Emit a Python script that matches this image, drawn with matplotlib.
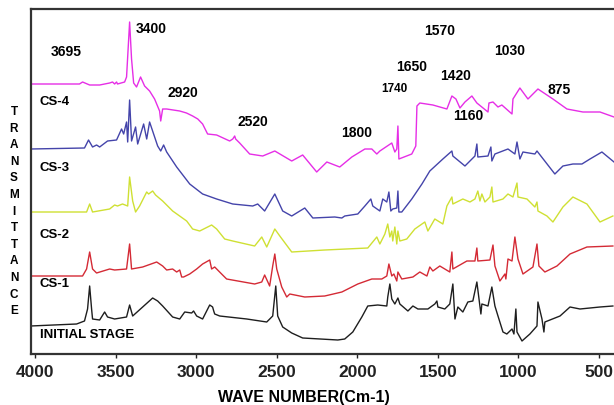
import matplotlib
matplotlib.use("Agg")
import matplotlib.pyplot as plt

# ---------- FTIR data (wave number cm-1, transmittance a.u., traces offset) ----------
cs4_wn = [4028, 3724, 3705, 3661, 3599, 3537, 3519, 3506, 3494, 3488, 3444, 3432, 3413, 3401, 3388,
          3370, 3345, 3320, 3289, 3258, 3227, 3220, 3208, 3183, 3102, 3060, 3022, 2990, 2960, 2929,
          2873, 2792, 2773, 2761, 2755, 2730, 2668, 2587, 2512, 2407, 2339, 2252, 2189, 2109, 2034,
          1953, 1910, 1879, 1860, 1786, 1767, 1755, 1748, 1742, 1662, 1637, 1630, 1612, 1531, 1444,
          1413, 1388, 1363, 1332, 1289, 1258, 1189, 1183, 1158, 1127, 1103, 1040, 1034, 991, 941, 879,
          786, 699, 600, 494, 407]
cs4_t = [321, 321, 323, 320, 320, 322, 323, 321, 323, 321, 323, 328, 383, 346, 322,
         318, 328, 319, 314, 306, 294, 284, 296, 296, 294, 292, 289, 286, 281, 271,
         270, 264, 266, 269, 266, 262, 251, 249, 254, 244, 250, 233, 243, 238, 248,
         256, 256, 251, 254, 262, 253, 256, 279, 246, 251, 259, 299, 302, 300, 296,
         309, 306, 297, 303, 309, 302, 293, 302, 303, 298, 300, 291, 306, 317, 306, 316,
         306, 296, 293, 293, 288]

cs3_wn = [4028, 3693, 3668, 3643, 3618, 3599, 3550, 3494, 3463, 3450, 3432, 3425, 3413, 3401, 3376,
          3363, 3326, 3307, 3289, 3239, 3220, 3202, 3183, 3121, 3040, 2960, 2873, 2773, 2649, 2618,
          2575, 2512, 2463, 2407, 2326, 2276, 2140, 2096, 2078, 1997, 1953, 1916, 1904, 1860, 1842,
          1817, 1804, 1792, 1780, 1755, 1748, 1742, 1724, 1662, 1599, 1550, 1469, 1413, 1407, 1332,
          1270, 1258, 1252, 1189, 1171, 1165, 1146, 1065, 1022, 1009, 991, 972, 898, 885, 774, 724,
          662, 606, 556, 482, 407]
cs3_t = [256, 257, 265, 258, 260, 258, 264, 265, 276, 271, 283, 263, 305, 264, 278,
         261, 281, 266, 283, 259, 254, 260, 253, 238, 221, 211, 206, 201, 199, 201,
         194, 211, 194, 189, 197, 187, 188, 187, 189, 191, 199, 206, 199, 194, 206,
         203, 213, 194, 196, 197, 214, 193, 193, 206, 221, 234, 246, 254, 249, 239,
         249, 261, 248, 249, 258, 244, 251, 256, 251, 263, 246, 253, 251, 254, 231, 239,
         241, 241, 246, 253, 243]

cs2_wn = [4028, 3680, 3661, 3643, 3537, 3506, 3488, 3457, 3425, 3413, 3394, 3376, 3351, 3307, 3295,
          3270, 3252, 3208, 3146, 3059, 3022, 2978, 2904, 2873, 2823, 2773, 2637, 2593, 2562, 2512,
          2481, 2407, 2202, 1935, 1879, 1860, 1829, 1811, 1798, 1786, 1780, 1767, 1755, 1748, 1736,
          1693, 1643, 1581, 1562, 1519, 1469, 1444, 1413, 1407, 1345, 1301, 1270, 1252, 1239, 1227,
          1208, 1177, 1165, 1158, 1096, 1065, 1034, 1009, 1003, 947, 898, 885, 879, 823, 786, 724,
          662, 575, 494, 414]
cs2_t = [193, 193, 201, 193, 196, 200, 199, 201, 199, 228, 204, 193, 199, 213, 211,
         214, 210, 204, 194, 184, 176, 174, 180, 176, 166, 164, 159, 168, 158, 176,
         169, 153, 155, 157, 168, 161, 171, 181, 168, 174, 164, 178, 161, 174, 164,
         166, 176, 183, 174, 186, 181, 199, 208, 201, 206, 203, 206, 214, 204, 211,
         203, 208, 218, 203, 206, 211, 208, 222, 208, 206, 198, 203, 194, 189, 183, 198,
         208, 201, 183, 189]

cs1_wn = [4028, 3705, 3680, 3661, 3643, 3618, 3537, 3506, 3432, 3413, 3401, 3332, 3245, 3208, 3183,
          3146, 3121, 3102, 3090, 3078, 3040, 2997, 2960, 2916, 2904, 2885, 2842, 2811, 2637, 2593,
          2575, 2544, 2525, 2512, 2500, 2469, 2438, 2419, 2326, 2202, 2096, 1997, 1910, 1848, 1817,
          1804, 1786, 1773, 1755, 1748, 1724, 1655, 1612, 1568, 1550, 1531, 1488, 1426, 1413, 1407,
          1320, 1270, 1258, 1252, 1177, 1158, 1146, 1115, 1084, 1078, 1065, 1040, 1022, 1003, 972,
          910, 885, 873, 836, 761, 680, 575, 414]
cs1_t = [129, 129, 136, 153, 136, 132, 136, 135, 136, 161, 136, 138, 143, 139, 135,
         136, 133, 135, 128, 128, 131, 136, 141, 145, 136, 138, 131, 126, 121, 123,
         130, 119, 139, 151, 136, 118, 108, 111, 108, 109, 113, 121, 126, 126, 129,
         141, 129, 131, 124, 133, 126, 128, 133, 129, 138, 134, 139, 133, 153, 136,
         144, 144, 157, 144, 145, 160, 139, 124, 131, 126, 146, 144, 168, 146, 131,
         138, 161, 139, 133, 139, 151, 158, 159]

init_wn = [4028, 3742, 3693, 3674, 3661, 3649, 3643, 3599, 3568, 3550, 3506, 3432, 3413, 3394, 3332,
           3270, 3239, 3208, 3146, 3102, 3071, 3028, 3016, 2997, 2960, 2916, 2898, 2891, 2885, 2854,
           2686, 2562, 2525, 2506, 2494, 2463, 2407, 2339, 2121, 2078, 2028, 1972, 1935, 1873, 1817,
           1811, 1798, 1786, 1767, 1748, 1736, 1686, 1655, 1624, 1562, 1519, 1506, 1500, 1457, 1426,
           1407, 1394, 1376, 1345, 1314, 1283, 1258, 1233, 1227, 1189, 1165, 1146, 1127, 1096, 1072,
           1040, 1028, 1016, 1009, 978, 929, 885, 879, 854, 842, 836, 742, 680, 618, 494, 414]
init_t = [79, 81, 84, 96, 119, 96, 86, 85, 93, 88, 86, 88, 100, 89, 98,
          107, 104, 99, 88, 86, 93, 92, 94, 89, 86, 100, 98, 94, 91, 89,
          86, 83, 89, 119, 89, 78, 72, 67, 65, 66, 73, 88, 99, 100, 99,
          108, 121, 106, 101, 107, 101, 94, 99, 96, 96, 101, 104, 98, 96, 101,
          121, 86, 98, 93, 103, 104, 123, 91, 101, 99, 118, 99, 89, 73, 71,
          76, 71, 96, 73, 64, 71, 79, 103, 86, 73, 83, 89, 98, 96, 98, 99]

series = [
    (cs4_wn, cs4_t, "#e62ee6"),
    (cs3_wn, cs3_t, "#4444aa"),
    (cs2_wn, cs2_t, "#cfe033"),
    (cs1_wn, cs1_t, "#d42a35"),
    (init_wn, init_t, "#1e1e1e"),
]

# trace names and band labels (label text, pixel position in the figure)
trace_names = ["CS-4", "CS-3", "CS-2", "CS-1", "INITIAL STAGE"]
trace_name_y = [102, 168, 235, 284, 335]
band_labels = ["3695", "3400", "2920", "2520", "1800", "1740", "1650", "1570", "1420", "1160", "1030", "875"]
band_pos = [(66, 52), (151, 29), (183, 93), (253, 122), (357, 133), (394, 89), (412, 67),
            (440, 31), (456, 76), (468, 116), (510, 51), (559, 90)]
x_ticks = [4000, 3500, 3000, 2500, 2000, 1500, 1000, 500]

W, H = 614, 406
plt.rcParams['font.family'] = ['Liberation Sans', 'DejaVu Sans']
fig = plt.figure(figsize=(W / 100, H / 100), dpi=100)
ax = fig.add_axes([31 / W, 1 - 355 / H, (W - 31) / W, (355 - 10) / H])


def px(x, y):
    # pixel position -> figure fraction
    return x / W, 1 - y / H


for wn, t, c in series:
    ax.plot(wn, t, color=c, lw=1.0, solid_joinstyle='round')

ax.set_xlim(4025, 407)
ax.set_ylim(51, 396)
ax.set_yticks([])
ax.set_xticks(x_ticks)
ax.set_xticklabels([str(v) for v in x_ticks], fontsize=12.5, fontweight='bold')
ax.tick_params(axis='x', direction='out', length=3, width=1, pad=4, colors='#222222')
ax.spines['right'].set_visible(False)
for s in ['left', 'bottom', 'top']:
    ax.spines[s].set_linewidth(1.6)
    ax.spines[s].set_color('#333333')

for name, y in zip(trace_names, trace_name_y):
    fx, fy = px(40, y)
    fig.text(fx, fy, name, fontsize=9.5, fontweight='bold', ha='left', va='center')

for lab, (x, y) in zip(band_labels, band_pos):
    fx, fy = px(x, y)
    size = 8.5 if lab == "1740" else 10
    fig.text(fx, fy, lab, fontsize=size, fontweight='bold', ha='center', va='center')

# vertical stacked axis title
for i, ch in enumerate("TRANSMITTANCE"):
    fx, fy = px(14, 112 + i * 16.6)
    fig.text(fx, fy, ch, fontsize=8.5, fontweight='bold', ha='center', va='center')

fx, fy = px(304, 398)
fig.text(fx, fy, "WAVE NUMBER(Cm-1)", fontsize=11.5, fontweight='bold', ha='center', va='center')

fig.savefig("out.png", dpi=100)
